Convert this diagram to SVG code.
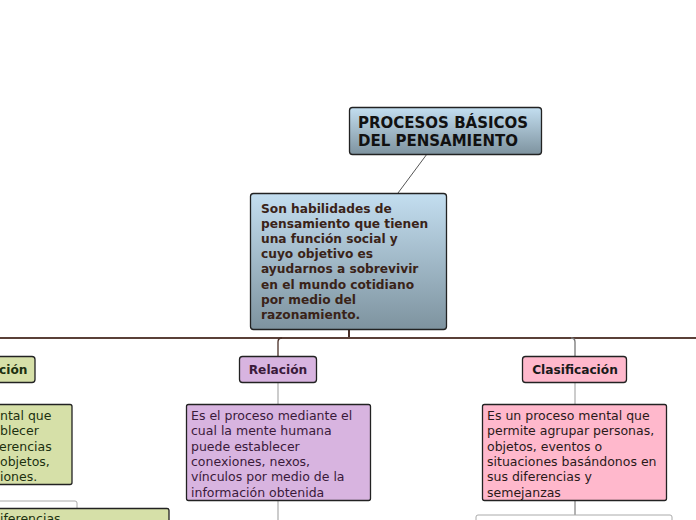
<svg xmlns="http://www.w3.org/2000/svg" width="696" height="520" viewBox="0 0 696 520">
<style>
text{font-family:"DejaVu Sans",Verdana,sans-serif;}
.b{font-weight:bold;font-size:12.2px;}
.n{font-size:12.5px;}
.box{stroke:#222;stroke-width:1.3;}
.thin{stroke:#999;stroke-width:1;fill:none;}
</style>
<defs>
<linearGradient id="g" x1="0" y1="0" x2="0" y2="1"><stop offset="0" stop-color="#c3def0"/><stop offset="1" stop-color="#7e939f"/></linearGradient>
</defs>
<g id="connectors">
<line x1="427" y1="154" x2="398" y2="193" stroke="#555" stroke-width="1"/>
<line x1="349" y1="329" x2="349" y2="338" stroke="#4a3028" stroke-width="2"/>
<line x1="0" y1="338" x2="696" y2="338" stroke="#5a4038" stroke-width="2"/>
<path d="M278 356 V342 Q278 338 282 338" stroke="#4a3028" stroke-width="1.3" fill="none"/>
<path d="M575 356 V342 Q575 338 571 338" stroke="#777" stroke-width="1.3" fill="none"/>
<line class="thin" x1="278" y1="382" x2="278" y2="404"/>
<line class="thin" x1="575" y1="382" x2="575" y2="404"/>
<line class="thin" x1="278" y1="500" x2="278" y2="520"/>
<line stroke="#666" x1="575" y1="500" x2="575" y2="515"/>
<rect x="476" y="515" width="196" height="10" rx="2" fill="#fff" stroke="#aaa"/>
<rect x="-5" y="501" width="82" height="20" rx="2" fill="#fff" stroke="#aaa"/>
</g>
<g id="title"><rect class="box" x="349.5" y="107.5" width="192" height="47" rx="3" fill="url(#g)"/>
<text x="358" y="128" font-size="15" font-weight="bold" fill="#111">PROCESOS BÁSICOS</text>
<text x="358" y="146" font-size="15" font-weight="bold" fill="#111">DEL PENSAMIENTO</text></g>
<g id="main"><rect class="box" x="250.5" y="193.5" width="196" height="136" rx="3" fill="url(#g)"/>
<text class="b" fill="#3a2318" x="261" y="213">Son habilidades de<tspan x="261" dy="15.1">pensamiento que tienen</tspan><tspan x="261" dy="15.1">una función social y</tspan><tspan x="261" dy="15.1">cuyo objetivo es</tspan><tspan x="261" dy="15.1">ayudarnos a sobrevivir</tspan><tspan x="261" dy="15.1">en el mundo cotidiano</tspan><tspan x="261" dy="15.1">por medio del</tspan><tspan x="261" dy="15.1">razonamiento.</tspan></text></g>
<g id="comparacion"><rect class="box" x="-10" y="356.5" width="45" height="26" rx="3" fill="#d6e0a8"/>
<text class="b" x="-1" y="374" fill="#1c3010">ción</text></g>
<g id="comparacion-desc"><rect class="box" x="-10" y="404.5" width="82" height="80" rx="2" fill="#d6e0a8"/>
<text class="n" fill="#1c3010" x="0" y="420">ntal que<tspan x="0" dy="15.3">blecer</tspan><tspan x="-1" dy="15.3">erencias</tspan><tspan x="0" dy="15.3">objetos,</tspan><tspan x="0" dy="15.3">iones.</tspan></text></g>
<g id="comparacion-sub"><rect class="box" x="-10" y="508.5" width="179" height="20" rx="2" fill="#d6e0a8"/>
<text class="n" fill="#1c3010" x="0" y="523">iferencias</text></g>
<g id="relacion"><rect class="box" x="239.5" y="356.5" width="77" height="26" rx="3" fill="#d8b4e0"/>
<text class="b" x="278" y="374" text-anchor="middle" fill="#3a1a3a">Relación</text></g>
<g id="relacion-desc"><rect class="box" x="186.5" y="404.5" width="184" height="96" rx="2" fill="#d8b4e0"/>
<text class="n" fill="#3a1a3a" x="191" y="420">Es el proceso mediante el<tspan x="191" dy="15.3">cual la mente humana</tspan><tspan x="191" dy="15.3">puede establecer</tspan><tspan x="191" dy="15.3">conexiones, nexos,</tspan><tspan x="191" dy="15.3">vínculos por medio de la</tspan><tspan x="191" dy="15.3">información obtenida</tspan></text></g>
<g id="clasificacion"><rect class="box" x="522.5" y="356.5" width="104" height="26" rx="3" fill="#ffb8cc"/>
<text class="b" x="575" y="374" text-anchor="middle" fill="#1a1a1a">Clasificación</text></g>
<g id="clasificacion-desc"><rect class="box" x="482.5" y="404.5" width="184" height="96" rx="2" fill="#ffb8cc"/>
<text class="n" fill="#2a1a1a" x="487" y="420">Es un proceso mental que<tspan x="487" dy="15.3">permite agrupar personas,</tspan><tspan x="487" dy="15.3">objetos, eventos o</tspan><tspan x="487" dy="15.3">situaciones basándonos en</tspan><tspan x="487" dy="15.3">sus diferencias y</tspan><tspan x="487" dy="15.3">semejanzas</tspan></text></g>
</svg>
